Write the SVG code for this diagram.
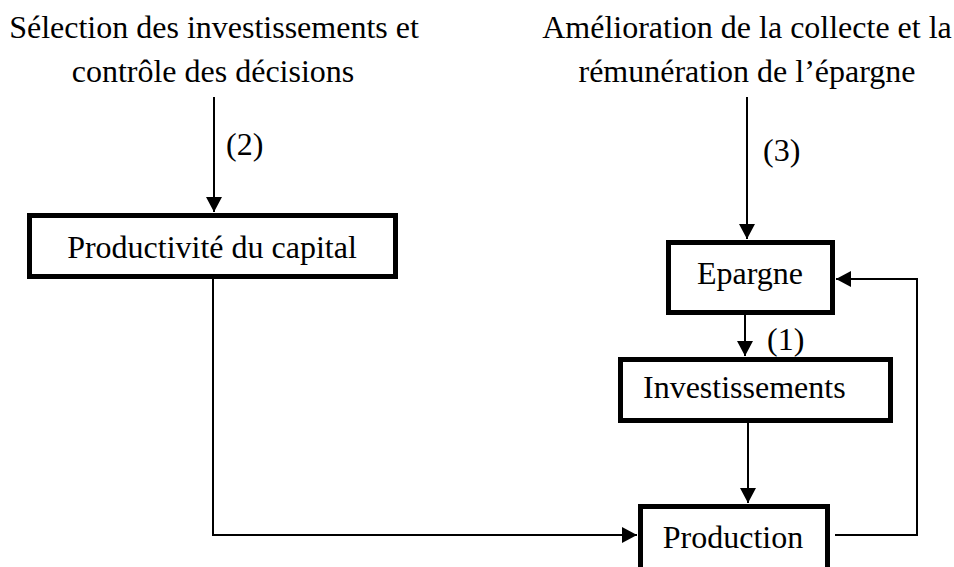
<svg xmlns="http://www.w3.org/2000/svg" width="954" height="567" viewBox="0 0 954 567">
<style>
  .t { font-family: "Liberation Serif", "Times New Roman", serif; font-size: 32px; fill: #000; }
  .box { fill: #fff; stroke: #000; stroke-width: 5; }
  .c { fill: none; stroke: #000; stroke-width: 2; }
</style>
<defs>
  <marker id="arr" viewBox="0 0 15 16" refX="15" refY="8" markerWidth="15" markerHeight="16" markerUnits="userSpaceOnUse" orient="auto">
    <path d="M0 0 L15 8 L0 16 z" fill="#000"/>
  </marker>
</defs>
<rect width="954" height="567" fill="#fff"/>

<g id="title-left">
  <text class="t" x="214" y="38" text-anchor="middle">Sélection des investissements et</text>
  <text class="t" x="213" y="82" text-anchor="middle">contrôle des décisions</text>
</g>
<g id="title-right">
  <text class="t" x="747" y="38" text-anchor="middle">Amélioration de la collecte et la</text>
  <text class="t" x="747" y="82" text-anchor="middle">rémunération de l’épargne</text>
</g>

<g id="connectors">
  <path class="c" d="M214 97 V212" marker-end="url(#arr)"/>
  <path class="c" d="M747 97 V239" marker-end="url(#arr)"/>
  <path class="c" d="M745 315 V356" marker-end="url(#arr)"/>
  <path class="c" d="M213 279 V535 H637" marker-end="url(#arr)"/>
  <path class="c" d="M748 423 V503" marker-end="url(#arr)"/>
  <path class="c" d="M835 535 H917 V279 H836" marker-end="url(#arr)"/>
  <text class="t" x="226" y="155">(2)</text>
  <text class="t" x="763" y="161">(3)</text>
  <text class="t" x="767" y="350">(1)</text>
</g>

<g id="productivite">
  <rect class="box" x="29.5" y="215.5" width="366" height="61"/>
  <text class="t" x="212" y="258" text-anchor="middle">Productivité du capital</text>
</g>
<g id="epargne">
  <rect class="box" x="668.5" y="242.5" width="164" height="70"/>
  <text class="t" x="750" y="284" text-anchor="middle">Epargne</text>
</g>
<g id="investissements">
  <rect class="box" x="620.5" y="359.5" width="270" height="61"/>
  <text class="t" x="643" y="398">Investissements</text>
</g>
<g id="production">
  <rect class="box" x="640.5" y="506.5" width="187" height="80"/>
  <text class="t" x="733" y="548" text-anchor="middle">Production</text>
</g>
</svg>
